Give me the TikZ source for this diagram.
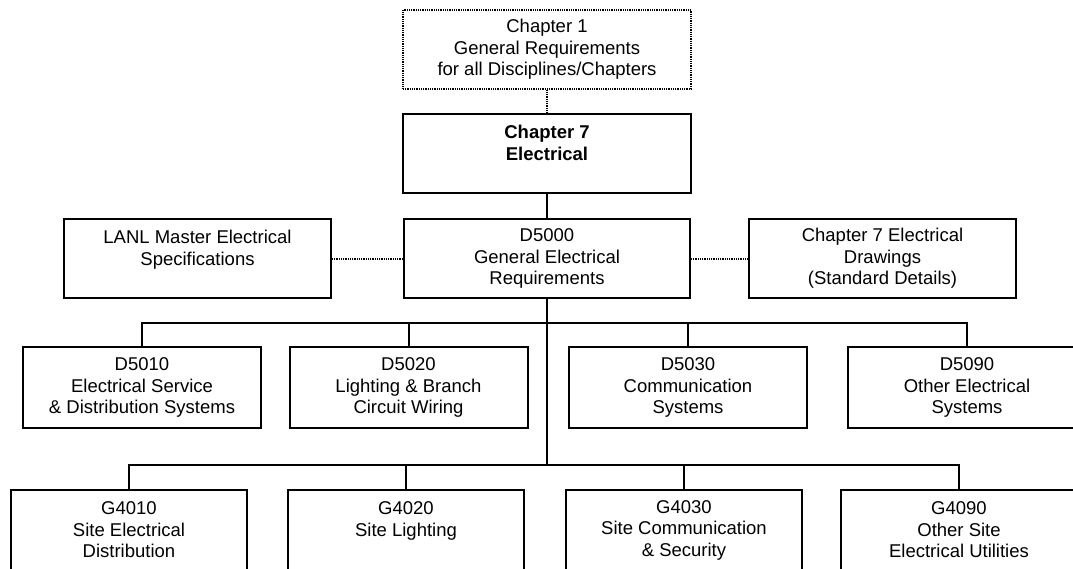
\documentclass[tikz,border=0pt]{standalone}
\usepackage{fontspec}
\setmainfont{Liberation Sans}
\begin{document}
\begin{tikzpicture}[x=1pt,y=-1pt,
  box/.style={draw=black, line width=2pt, rectangle, inner sep=0pt, align=center,
    font=\fontsize{18.5}{21.5}\selectfont},
  dbox/.style={box, minimum width=238pt, minimum height=81pt},
  gbox/.style={box, minimum width=236pt, minimum height=81pt},
  conn/.style={draw=black, line width=2pt},
  mainconn/.style={draw=black, line width=2.4pt},
  dotline/.style={draw=black, line width=2pt, dash pattern=on 1pt off 0.8pt}
]
\useasboundingbox (0,0) rectangle (1073,568);
\clip (0,0) rectangle (1073,568);

% top
\node[box, dash pattern=on 1pt off 0.8pt, line width=2.2pt, minimum width=288pt, minimum height=79pt] (ch1) at (547,49.5)
  {Chapter 1\\General Requirements\\for all Disciplines/Chapters};
\node[box, line width=2.7pt, minimum width=288pt, minimum height=79pt,
  font=\fontsize{18.5}{21.5}\selectfont\bfseries] (ch7) at (547,153.5)
  {Chapter 7\\Electrical\\\phantom{X}};

% middle row
\node[box, minimum width=267pt, minimum height=79pt] (lanl) at (197.5,258.5)
  {LANL Master Electrical\\Specifications\\\phantom{X}};
\node[box, minimum width=286pt, minimum height=79pt] (d5000) at (547,258.5)
  {D5000\\General Electrical\\Requirements};
\node[box, minimum width=267pt, minimum height=79pt] (drw) at (882.5,258.5)
  {Chapter 7 Electrical\\Drawings\\(Standard Details)};

% D row
\node[dbox] (d5010) at (142,387.5) {D5010\\Electrical Service\\\& Distribution Systems};
\node[dbox] (d5020) at (408.5,387.5) {D5020\\Lighting \& Branch\\Circuit Wiring};
\node[dbox] (d5030) at (688,387.5) {D5030\\Communication\\Systems};
\node[dbox] (d5090) at (967,387.5) {D5090\\Other Electrical\\Systems};

% G row
\node[gbox] (g4010) at (129,530) {G4010\\Site Electrical\\Distribution};
\node[gbox] (g4020) at (406,530) {G4020\\Site Lighting\\\phantom{X}};
\node[gbox] (g4030) at (684,530) {G4030\\Site Communication\\\& Security};
\node[gbox] (g4090) at (959,530) {G4090\\Other Site\\Electrical Utilities};

\coordinate (dbus) at (547,323);
\coordinate (gbus) at (547,465);

% connectors
\draw[dotline] (ch1.south) -- (ch7.north);
\draw[mainconn] (ch7.south) -- (d5000.north);
\draw[dotline] (lanl.east) -- (d5000.west);
\draw[dotline] (d5000.east) -- (drw.west);
\draw[mainconn] (d5000.south) -- (gbus);

\draw[conn] (d5010.north) |- (dbus) -| (d5090.north);
\draw[conn] (d5020.north) -- (d5020.north |- dbus);
\draw[conn] (d5030.north) -- (d5030.north |- dbus);

\draw[conn] (g4010.north) |- (gbus) -| (g4090.north);
\draw[conn] (g4020.north) -- (g4020.north |- gbus);
\draw[conn] (g4030.north) -- (g4030.north |- gbus);
\end{tikzpicture}
\end{document}
